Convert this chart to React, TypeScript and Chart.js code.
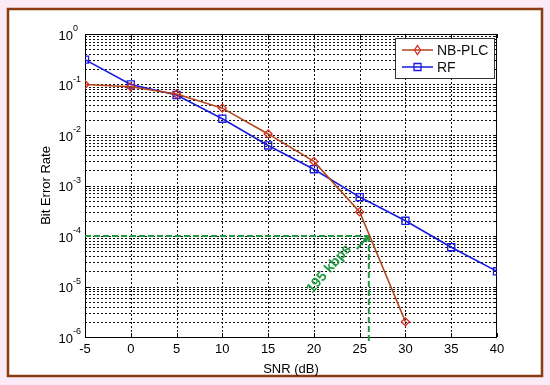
import React, { useEffect, useRef } from "react";
import { Chart, registerables } from "chart.js";

Chart.register(...registerables);

const snr = [-5, 0, 5, 10, 15, 20, 25, 30, 35, 40];
const nbPlc = [0.1, 0.09, 0.065, 0.034, 0.0105, 0.003, 0.0003, 0.000002];
const rf = [0.31, 0.1, 0.062, 0.021, 0.0062, 0.0021, 0.00059, 0.0002, 0.00006, 0.00002];
const xTicks = [-5, 0, 5, 10, 15, 20, 25, 30, 35, 40];
const yDecades = [0, -1, -2, -3, -4, -5, -6];
const markerX = 26;
const markerY = 1e-4;
const annotation = "195 kbps";

const FONT = "'Liberation Sans', Arial, sans-serif";

const decorPlugin = {
  id: "decor",
  beforeDraw(chart: any) {
    const { ctx, width, height } = chart;
    ctx.save();
    ctx.fillStyle = "#fdeaf7";
    ctx.fillRect(0, 0, width, height);
    ctx.fillStyle = "#ffffff";
    ctx.fillRect(8, 9, 534, 367);
    ctx.strokeStyle = "#8a3b12";
    ctx.lineWidth = 2.5;
    ctx.strokeRect(8, 9, 534, 367);
    ctx.restore();
  },
  beforeDatasetsDraw(chart: any) {
    const { ctx, chartArea: a, scales } = chart;
    const xs = scales.x;
    const ys = scales.y;
    ctx.save();
    ctx.strokeStyle = "#111";
    ctx.lineWidth = 1;
    ctx.setLineDash([2, 2]);
    xTicks.forEach((v) => {
      const px = Math.round(xs.getPixelForValue(v)) + 0.5;
      if (px <= a.left + 1 || px >= a.right - 1) return;
      ctx.beginPath();
      ctx.moveTo(px, a.top);
      ctx.lineTo(px, a.bottom);
      ctx.stroke();
    });
    for (let d = -6; d < 0; d++) {
      for (let m = 1; m <= 9; m++) {
        const v = m * Math.pow(10, d);
        const py = Math.round(ys.getPixelForValue(v)) + 0.5;
        if (py >= a.bottom - 1 || py <= a.top + 1) continue;
        ctx.beginPath();
        ctx.moveTo(a.left, py);
        ctx.lineTo(a.right, py);
        ctx.stroke();
      }
    }
    ctx.setLineDash([]);
    ctx.strokeStyle = "#000";
    xTicks.forEach((v) => {
      const px = Math.round(xs.getPixelForValue(v)) + 0.5;
      ctx.beginPath();
      ctx.moveTo(px, a.bottom);
      ctx.lineTo(px, a.bottom - 4);
      ctx.moveTo(px, a.top);
      ctx.lineTo(px, a.top + 4);
      ctx.stroke();
    });
    for (let d = -6; d <= 0; d++) {
      for (let m = 1; m <= 9; m++) {
        if (d === 0 && m > 1) break;
        const v = m * Math.pow(10, d);
        const py = Math.round(ys.getPixelForValue(v)) + 0.5;
        const len = m === 1 ? 4 : 2;
        ctx.beginPath();
        ctx.moveTo(a.left, py);
        ctx.lineTo(a.left + len, py);
        ctx.moveTo(a.right, py);
        ctx.lineTo(a.right - len, py);
        ctx.stroke();
      }
    }
    ctx.lineWidth = 1;
    ctx.strokeRect(a.left + 0.5, a.top + 0.5, a.right - a.left - 1, a.bottom - a.top);
    ctx.fillStyle = "#000";
    ctx.font = `13px ${FONT}`;
    ctx.textAlign = "center";
    ctx.textBaseline = "top";
    xTicks.forEach((v) => {
      ctx.fillText(String(v), xs.getPixelForValue(v), a.bottom + 6);
    });
    yDecades.forEach((d) => {
      const py = ys.getPixelForValue(Math.pow(10, d));
      ctx.font = `13px ${FONT}`;
      ctx.textAlign = "right";
      ctx.textBaseline = "middle";
      ctx.fillText("10", a.left - 12, py + 2);
      ctx.font = `9px ${FONT}`;
      ctx.textAlign = "left";
      ctx.fillText(String(d), a.left - 12, py - 5);
    });
    ctx.font = `13px ${FONT}`;
    ctx.textAlign = "center";
    ctx.textBaseline = "middle";
    ctx.fillText("SNR (dB)", (a.left + a.right) / 2, a.bottom + 32);
    ctx.save();
    ctx.translate(46, (a.top + a.bottom) / 2);
    ctx.rotate(-Math.PI / 2);
    ctx.fillText("Bit Error Rate", 0, 0);
    ctx.restore();
    const gx = xs.getPixelForValue(markerX);
    const gy = ys.getPixelForValue(markerY);
    ctx.strokeStyle = "#1f9a3f";
    ctx.lineWidth = 2;
    ctx.setLineDash([6, 3]);
    ctx.beginPath();
    ctx.moveTo(xs.getPixelForValue(-5), gy);
    ctx.lineTo(gx, gy);
    ctx.moveTo(gx, gy);
    ctx.lineTo(gx, a.bottom + 4);
    ctx.stroke();
    ctx.restore();
  },
  afterDatasetsDraw(chart: any) {
    const { ctx, scales } = chart;
    const xs = scales.x;
    const ys = scales.y;
    const gx = xs.getPixelForValue(markerX);
    const gy = ys.getPixelForValue(markerY);
    ctx.save();
    ctx.fillStyle = "#1f9a3f";
    ctx.font = `bold 14px ${FONT}`;
    ctx.translate(329, 269);
    ctx.rotate(-0.85);
    ctx.textAlign = "center";
    ctx.textBaseline = "middle";
    ctx.fillText(annotation, 0, 0);
    ctx.restore();
    ctx.save();
    ctx.strokeStyle = "#1f9a3f";
    ctx.fillStyle = "#1f9a3f";
    ctx.lineWidth = 2;
    const sx = gx - 12;
    const sy = gy + 13;
    ctx.beginPath();
    ctx.moveTo(sx, sy);
    ctx.lineTo(gx - 2, gy + 2);
    ctx.stroke();
    const th = Math.atan2(gy - sy, gx - sx);
    ctx.beginPath();
    ctx.moveTo(gx, gy);
    ctx.lineTo(gx - 7 * Math.cos(th - 0.45), gy - 7 * Math.sin(th - 0.45));
    ctx.lineTo(gx - 7 * Math.cos(th + 0.45), gy - 7 * Math.sin(th + 0.45));
    ctx.closePath();
    ctx.fill();
    ctx.restore();
    ctx.save();
    const lx = 395, ly = 38, lw = 99, lh = 40;
    ctx.fillStyle = "#fff";
    ctx.fillRect(lx, ly, lw, lh);
    ctx.strokeStyle = "#333";
    ctx.lineWidth = 1;
    ctx.strokeRect(lx + 0.5, ly + 0.5, lw, lh);
    const rows = [
      { label: "NB-PLC", color: "#b2471c", mk: "#d82a1e", shape: "d", y: ly + 12 },
      { label: "RF", color: "#1a1ae0", mk: "#1a1ae0", shape: "s", y: ly + 29 },
    ];
    rows.forEach((r) => {
      ctx.strokeStyle = r.color;
      ctx.lineWidth = 1.5;
      ctx.beginPath();
      ctx.moveTo(lx + 7, r.y);
      ctx.lineTo(lx + 38, r.y);
      ctx.stroke();
      ctx.strokeStyle = r.mk;
      ctx.lineWidth = 1.3;
      const cx = lx + 22.5;
      ctx.beginPath();
      if (r.shape === "d") {
        ctx.moveTo(cx, r.y - 4.5);
        ctx.lineTo(cx + 3, r.y);
        ctx.lineTo(cx, r.y + 4.5);
        ctx.lineTo(cx - 3, r.y);
        ctx.closePath();
      } else {
        ctx.rect(cx - 3.5, r.y - 3.5, 7, 7);
      }
      ctx.stroke();
      ctx.fillStyle = "#111";
      ctx.font = `14px ${FONT}`;
      ctx.textAlign = "left";
      ctx.textBaseline = "middle";
      ctx.fillText(r.label, lx + 42, r.y + 1);
    });
    ctx.restore();
  },
};

export default function App() {
  const ref = useRef<HTMLCanvasElement>(null);
  useEffect(() => {
    if (!ref.current) return;
    const chart = new Chart(ref.current, {
      type: "line",
      data: {
        datasets: [
          {
            label: "NB-PLC",
            data: nbPlc.map((v, i) => ({ x: snr[i], y: v })),
            borderColor: "#b2471c",
            borderWidth: 1.6,
            pointStyle: "rectRot",
            pointRadius: 4,
            pointBorderColor: "#d82a1e",
            pointBackgroundColor: "rgba(0,0,0,0)",
            pointBorderWidth: 1.3,
            tension: 0,
          },
          {
            label: "RF",
            data: rf.map((v, i) => ({ x: snr[i], y: v })),
            borderColor: "#1a1ae0",
            borderWidth: 1.6,
            pointStyle: "rect",
            pointRadius: 5,
            pointBorderColor: "#1a1ae0",
            pointBackgroundColor: "rgba(0,0,0,0)",
            pointBorderWidth: 1.3,
            tension: 0,
          },
        ],
      },
      options: {
        animation: false,
        responsive: false,
        maintainAspectRatio: false,
        layout: { padding: { left: 85, top: 34, right: 53, bottom: 48 } },
        plugins: { legend: { display: false }, tooltip: { enabled: false } },
        scales: {
          x: { type: "linear", min: -5, max: 40, display: false },
          y: { type: "logarithmic", min: 1e-6, max: 1, display: false },
        },
      },
      plugins: [decorPlugin],
    });
    return () => chart.destroy();
  }, []);
  return (
    <div style={{ position: "fixed", left: 0, top: 0, width: 550, height: 385 }}>
      <canvas ref={ref} width={550} height={385} style={{ width: 550, height: 385 }} />
    </div>
  );
}
